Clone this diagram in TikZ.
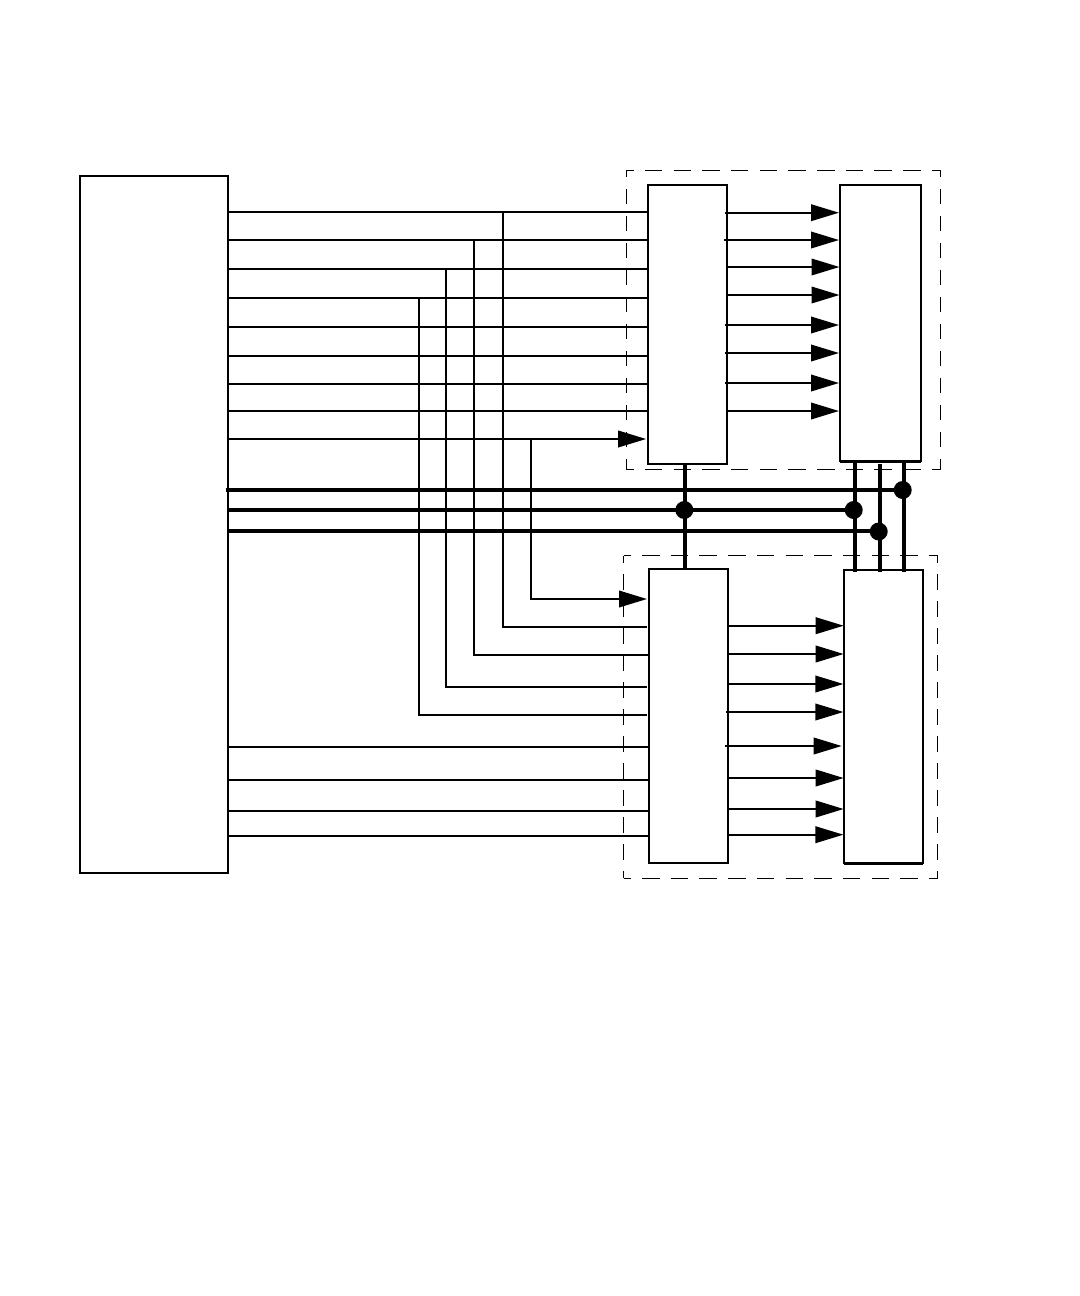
\documentclass[tikz,border=0pt]{standalone}
\usetikzlibrary{arrows.meta}
\tikzset{
  wire/.style={line width=1.5pt},
  bus/.style={line width=3pt},
  blockbox/.style={draw,line width=1.5pt,inner sep=0pt,outer sep=0pt},
  thickedge/.style={line width=2.25pt},
  groupbox/.style={inner sep=0pt,outer sep=0pt},
  dashh/.style={line width=0.75pt,dash pattern=on 13.125pt off 8.4pt,dash phase=7.65pt},
  dashv/.style={line width=0.75pt,dash pattern=on 11.625pt off 8.625pt,dash phase=6.375pt},
  dotnode/.style={circle,fill=black,inner sep=0pt,outer sep=0pt,minimum size=13.5pt},
  arrowwire/.style={wire,-{Triangle[length=21pt,width=12.4pt]}},
}
\begin{document}
\begin{tikzpicture}[x=0.75pt,y=-0.75pt]
\useasboundingbox (0,0) rectangle (1080,1296);
% dashed groups
\node[groupbox,minimum width=314.4*0.75pt,minimum height=299.2*0.75pt] (G1) at (783.5,319.9) {};
\node[groupbox,minimum width=314.2*0.75pt,minimum height=322.8*0.75pt] (G2) at (780.6,716.9) {};
\foreach \g in {G1,G2}{
  \draw[dashh] (\g.north west) -- (\g.north east);
  \draw[dashh] (\g.south west) -- (\g.south east);
  \draw[dashv] (\g.north west) -- (\g.south west);
  \draw[dashv] (\g.north east) -- (\g.south east);
}
% blocks
\node[blockbox,minimum width=148*0.75pt,minimum height=697*0.75pt] (L) at (154,524.5) {};
\node[blockbox,minimum width=79.3*0.75pt,minimum height=279.3*0.75pt] (A) at (687.35,324.35) {};
\node[blockbox,minimum width=81*0.75pt,minimum height=276.6*0.75pt] (B) at (880.5,323) {};
\node[blockbox,minimum width=79.3*0.75pt,minimum height=294.6*0.75pt] (C) at (688.65,716) {};
\node[blockbox,minimum width=79.3*0.75pt,minimum height=293*0.75pt] (D) at (883.35,716.5) {};
\draw[thickedge] (B.south west) -- (B.south east);
\draw[thickedge] (D.south west) -- (D.south east);
% wires L -> A
\foreach \y in {212,240,269,298,327,356,384,411}
  \draw[wire] (L.east |- 0,\y) -- (A.west |- 0,\y);
% arrow L -> A and branch to C
\coordinate (j0) at (531,439);
\draw[arrowwire,shorten >=1.2pt] (L.east |- j0) -- (A.west |- j0);
\coordinate (c0) at (531,599);
\draw[arrowwire,shorten >=1.5pt] (j0) -- (c0) -- (C.west |- c0);
% branches to C
\foreach \n/\x/\ya/\yb/\s in {1/503/212/627/-2,2/474/240/655/0,3/446/269/687/-2,4/419/298/715/-2}{
  \coordinate (t\n) at (\x,\ya);
  \coordinate (b\n) at (\x,\yb);
  \draw[wire] (t\n) -- (b\n) -- ([xshift=\s*0.75pt]C.west |- b\n);
}
% wires L -> C
\foreach \y in {747,780,811,836}
  \draw[wire] (L.east |- 0,\y) -- (C.west |- 0,\y);
% arrows A -> B
\foreach \y/\s/\e in {212.7/-2/1,240/-3/1,267/0/0.5,295/0/0.5,325/-2/1,353/-2/1,383/-2/1,411/0/1}
  \draw[arrowwire,shorten >=\e*0.75pt] ([xshift=\s*0.75pt]A.east |- 0,\y) -- (B.west |- 0,\y);
% arrows C -> D
\foreach \y/\s/\e in {625.7/0/0,654/0/0,684/0/0.3,712/-2/0.3,746/-3/2,778/0/0,809/0/0,834.7/0/0.3}
  \draw[arrowwire,shorten >=\e*0.75pt] ([xshift=\s*0.75pt]C.east |- 0,\y) -- (D.west |- 0,\y);
% buses
\node[dotnode] (d1) at (902.7,490) {};
\node[dotnode] (d2) at (853.7,510) {};
\node[dotnode] (d3) at (878.7,531.5) {};
\node[dotnode] (d4) at (684.3,510) {};
\draw[bus] ([xshift=-1.5pt]L.east |- d1) -- (d1);
\draw[bus] (L.east |- d2) -- (d2);
\draw[bus] (L.east |- 0,531) -- (d3.center |- 0,531);
\coordinate (v1a) at (685,464); \coordinate (v1b) at (685,568.7);
\coordinate (v2a) at (855,461.3); \coordinate (v2b) at (855,571.7);
\coordinate (v3a) at (880,464); \coordinate (v3b) at (880,571.7);
\coordinate (v4a) at (904,461.3); \coordinate (v4b) at (904,571.7);
\foreach \n in {1,2,3,4}
  \draw[bus] (v\n a) -- (v\n b);
\end{tikzpicture}
\end{document}
